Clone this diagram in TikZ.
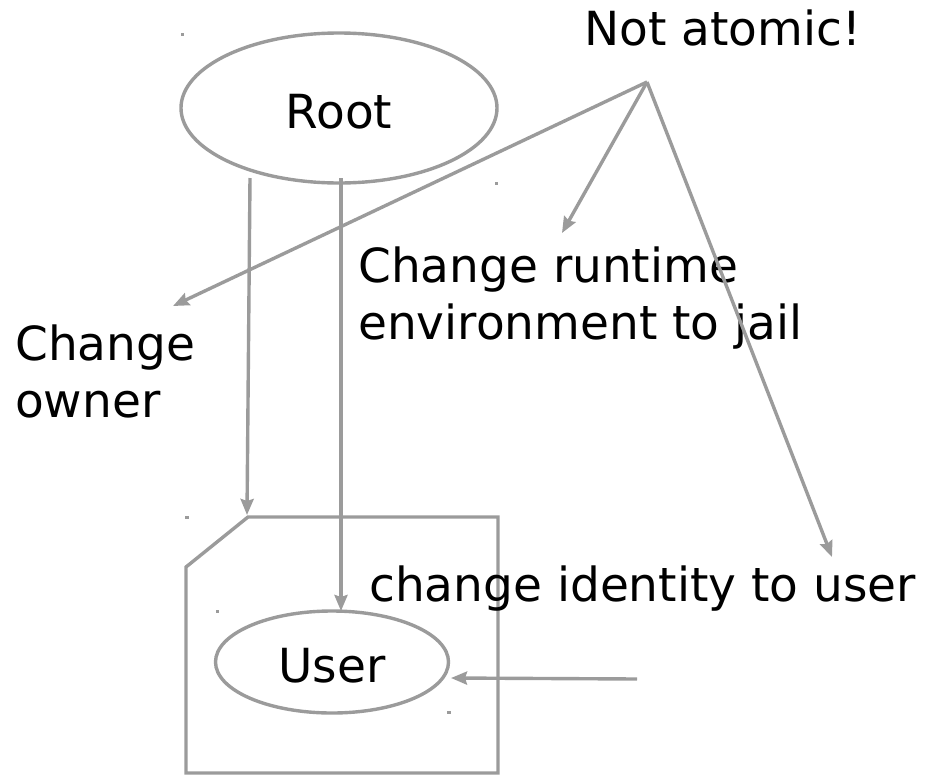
\documentclass[tikz,border=0pt]{standalone}
\usepackage{fontspec}
\setmainfont{DejaVu Sans}
\usetikzlibrary{arrows.meta,shapes.geometric}
\definecolor{linegray}{RGB}{155,155,155}
\begin{document}
\begin{tikzpicture}[x=1pt,y=-1pt,
  conn/.style={draw=linegray,line width=3.4pt,-{Stealth[length=16pt,width=13pt,inset=2pt]}},
  shapeline/.style={draw=linegray,line width=3.4pt},
  lbl/.style={inner sep=0pt,anchor=base west,align=left,font=\fontsize{47}{57}\selectfont},
  oval/.style={ellipse,draw=linegray,line width=3.4pt,inner sep=0pt,text height=40pt,text depth=0pt,font=\fontsize{47}{57}\selectfont},
  speck/.style={fill=linegray,draw=none}]
\useasboundingbox (0,0) rectangle (932,777);
% ellipses
\node[oval,minimum width=316pt,minimum height=150pt] (root) at (339,108) {Root};
\node[oval,minimum width=233pt,minimum height=102pt] (user) at (332,662) {User};
% folder shape
\draw[shapeline,line join=miter] (248,517) -- (498,517) -- (498,773) -- (186,773) -- (186,567) -- cycle;
\coordinate (fcorner) at (247,515);
% texts
\node[lbl] (notatomic) at (584,45) {Not atomic!};
\node[lbl] (owner) at (15,417) {Change\\owner};
\node[lbl] (runtime) at (358,339) {Change runtime\\environment to jail};
\node[lbl] (identity) at (369,601) {change identity to user};
% hub and arrow ends
\coordinate (hub) at (647,82);
\coordinate (ownerTip) at (173,306);
\coordinate (runtimeTip) at (562,233);
\coordinate (identityTip) at (832,557);
\coordinate (rootA) at (250,178);
\coordinate (rootB) at (341,178);
\coordinate (userTop) at (341,611);
\coordinate (userRight) at (451,678);
\coordinate (arrowStart) at (637,679);
\draw[conn] (hub) -- (ownerTip);
\draw[conn] (hub) -- (runtimeTip);
\draw[conn] (hub) -- (identityTip);
\draw[conn] (rootA) -- (fcorner);
\draw[conn] (rootB) -- (userTop);
\draw[conn] (arrowStart) -- (userRight);
% small specks
\fill[speck] (180.5,32.5) rectangle (184,35.5);
\fill[speck] (494.5,181.5) rectangle (498,184.5);
\fill[speck] (185,515.5) rectangle (188.5,518.5);
\fill[speck] (215.5,609.5) rectangle (219,612.5);
\fill[speck] (447,711) rectangle (450.5,714);
\end{tikzpicture}
\end{document}
